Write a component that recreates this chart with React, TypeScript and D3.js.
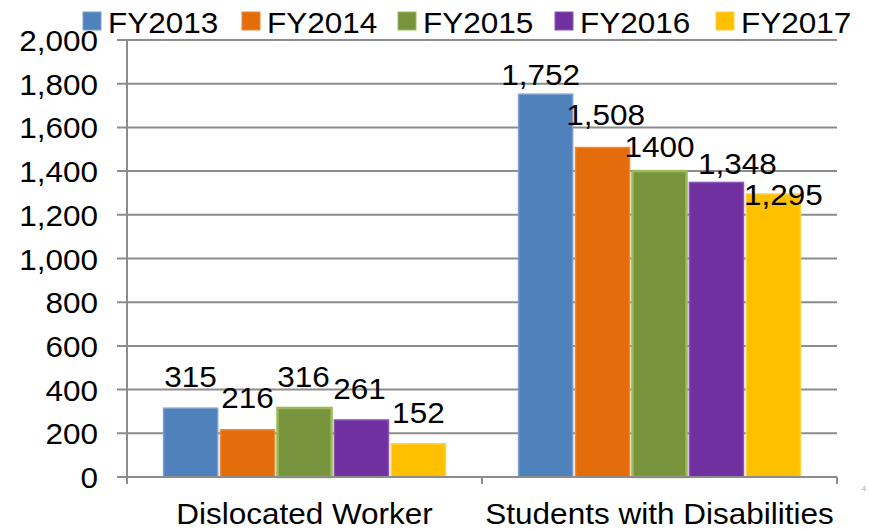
import React from "react";
import * as d3 from "d3";

const categories = ["Dislocated Worker", "Students with Disabilities"];
const seriesNames = ["FY2013", "FY2014", "FY2015", "FY2016", "FY2017"];
const dislocatedWorker = [315, 216, 316, 261, 152];
const studentsWithDisabilities = [1752, 1508, 1400, 1348, 1295];
const labelTexts = [
  ["315", "216", "316", "261", "152"],
  ["1,752", "1,508", "1400", "1,348", "1,295"],
];
const yTicks = [0, 200, 400, 600, 800, 1000, 1200, 1400, 1600, 1800, 2000];

const fills = ["#4F81BD", "#E46C0A", "#77933C", "#7030A0", "#FFC000"];
const strokes = ["#7DA1CF", "#EA8A3F", "#9BBB59", "#8B55B5", "#FFD040"];
const strokeW = [1.5, 1.5, 2.5, 1.5, 1.5];
// manual label nudges [dx, dy] (the original labels were hand-placed)
const labelNudge = [
  [[0, 0], [0, -1], [-1, 0], [-2, 0], [0, 0]],
  [[-5, 12], [3, -2], [0, 7], [21, 13], [10, 32]],
];

const W = 869;
const H = 530;
const left = 127;
const right = 837;
const top = 40;
const bottom = 477;
const FONT = "'Liberation Sans', Arial, sans-serif";
const FS = 30;
const SX = 1.05;

function T({ x, y, anchor = "middle", children, size = FS, fill = "#000" }: any) {
  return (
    <text
      transform={`translate(${x},${y}) scale(${SX},1)`}
      textAnchor={anchor}
      fontFamily={FONT}
      fontSize={size}
      fill={fill}
    >
      {children}
    </text>
  );
}

export default function App() {
  const values = [dislocatedWorker, studentsWithDisabilities];
  const y = d3.scaleLinear().domain([0, 2000]).range([bottom, top]);
  const x0 = d3.scaleBand().domain(categories).range([left, right]);
  const bw = x0.bandwidth();
  const x1 = d3
    .scaleBand()
    .domain(seriesNames)
    .range([bw * 0.103, bw * 0.897])
    .paddingInner(0.05);

  const legendX = [83, 242, 398, 555, 716];

  return (
    <div style={{ position: "absolute", left: 0, top: 0 }}>
      <svg width={W} height={H} style={{ display: "block", background: "#fff" }}>
        {/* gridlines */}
        {yTicks.map((t) => (
          <line
            key={t}
            x1={left - 10}
            x2={right}
            y1={y(t)}
            y2={y(t)}
            stroke="#8C8C8C"
            strokeWidth={2}
          />
        ))}
        {/* y axis */}
        <line x1={left} x2={left} y1={top} y2={bottom + 7} stroke="#8C8C8C" strokeWidth={2} />
        {/* category ticks */}
        {[left, left + bw, right].map((xx, i) => (
          <line key={i} x1={xx} x2={xx} y1={bottom} y2={bottom + 7} stroke="#8C8C8C" strokeWidth={2} />
        ))}
        {/* y labels */}
        {yTicks.map((t) => (
          <T key={t} x={98} y={y(t) + 11} anchor="end">
            {d3.format(",")(t)}
          </T>
        ))}
        {/* bars */}
        {categories.map((c, ci) =>
          seriesNames.map((s, si) => {
            const v = values[ci][si];
            const bx = (x0(c) as number) + (x1(s) as number);
            return (
              <rect
                key={c + s}
                x={bx}
                y={y(v)}
                width={x1.bandwidth()}
                height={bottom - y(v)}
                fill={fills[si]}
                stroke={strokes[si]}
                strokeWidth={strokeW[si]}
              />
            );
          })
        )}
        {/* redraw baseline over bars */}
        <line x1={left - 10} x2={right} y1={bottom} y2={bottom} stroke="#8C8C8C" strokeWidth={2} />
        {/* data labels */}
        {categories.map((c, ci) =>
          seriesNames.map((s, si) => {
            const v = values[ci][si];
            const cx = (x0(c) as number) + (x1(s) as number) + x1.bandwidth() / 2;
            const [dx, dy] = labelNudge[ci][si];
            return (
              <T key={"l" + c + s} x={cx + dx} y={y(v) - 21 + dy}>
                {labelTexts[ci][si]}
              </T>
            );
          })
        )}
        {/* category labels */}
        {categories.map((c) => (
          <T key={c} x={(x0(c) as number) + bw / 2} y={524}>
            {c}
          </T>
        ))}
        {/* legend */}
        {seriesNames.map((s, i) => (
          <g key={s}>
            <rect
              x={legendX[i]}
              y={12}
              width={18}
              height={18}
              fill={fills[i]}
              stroke={strokes[i]}
              strokeWidth={1}
            />
            <T x={legendX[i] + 25} y={33} anchor="start">
              {s}
            </T>
          </g>
        ))}
        <text x={866} y={491} fontSize={8} fill="#aaa" fontFamily={FONT} textAnchor="end">
          4
        </text>
      </svg>
    </div>
  );
}
